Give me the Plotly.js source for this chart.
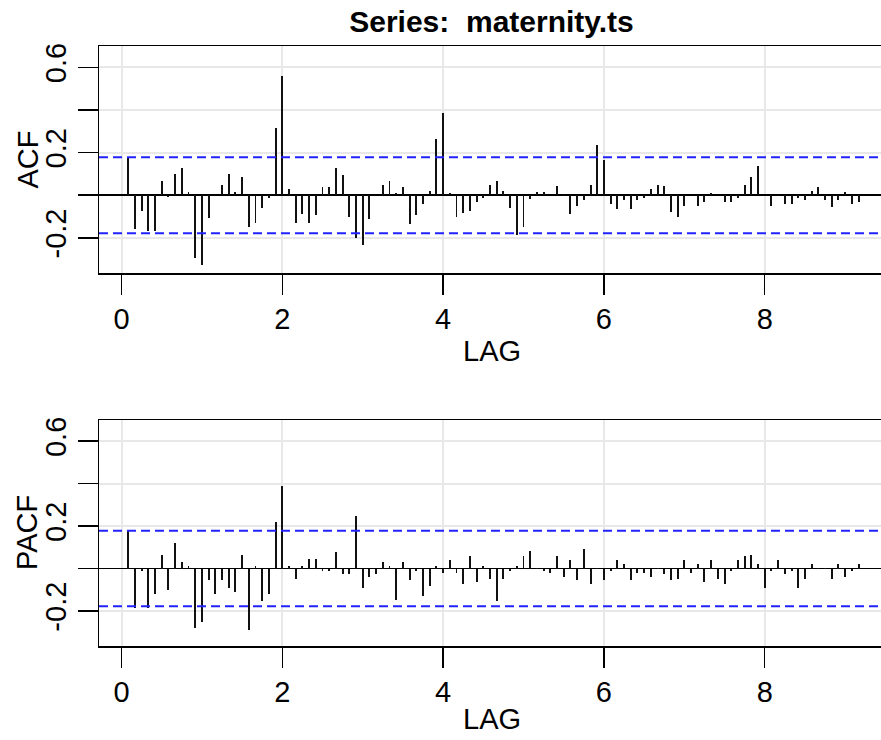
<!DOCTYPE html>
<html><head><meta charset="utf-8">
<script src="https://cdn.plot.ly/plotly-3.0.1.min.js"></script>
<style>html,body{margin:0;padding:0;background:#fff}</style>
</head><body><div id="chart" style="width:881px;height:740px"></div>
<script>
const seriesName = "maternity.ts";
const freq = 12;
const acfValues = [
 0.178,-0.157,-0.075,-0.167,-0.167, 0.066,-0.008, 0.100, 0.128, 0.013,
-0.293,-0.326,-0.105, 0.003, 0.049, 0.100, 0.013, 0.086,-0.149,-0.130,
-0.058,-0.014, 0.316, 0.560, 0.031,-0.130,-0.086,-0.130,-0.094, 0.039,
 0.039, 0.128, 0.094,-0.100,-0.203,-0.235,-0.113, 0.002, 0.047, 0.066,
 0.011, 0.039,-0.136,-0.091,-0.039, 0.020, 0.263, 0.388, 0.011,-0.100,
-0.083,-0.075,-0.030,-0.013, 0.050, 0.067, 0.020,-0.058,-0.185,-0.149,
-0.020, 0.013, 0.013, 0.002, 0.042,-0.002,-0.086,-0.050,-0.023, 0.050,
 0.236, 0.164,-0.042,-0.067,-0.023,-0.067,-0.023,-0.013, 0.031, 0.050,
 0.042,-0.078,-0.100,-0.049, 0.002,-0.049,-0.031, 0.011, 0.002,-0.031,
-0.031,-0.013, 0.047, 0.085, 0.138, 0.002,-0.049,-0.002,-0.039,-0.039,
-0.014,-0.023, 0.020, 0.039,-0.023,-0.055,-0.023, 0.013,-0.039,-0.031
];
const pacfValues = [
 0.178,-0.185,-0.013,-0.185,-0.119, 0.066,-0.102, 0.120, 0.030, 0.011,
-0.282,-0.252,-0.055,-0.119,-0.055,-0.091,-0.110, 0.066,-0.290, 0.011,
-0.153,-0.119, 0.219, 0.390, 0.011,-0.047, 0.011, 0.047, 0.047,-0.013,
-0.013, 0.077,-0.028,-0.028, 0.246,-0.091,-0.041,-0.028, 0.030, 0.011,
-0.146, 0.030,-0.055,-0.013,-0.130,-0.083, 0.011,-0.020, 0.039,-0.020,
-0.075, 0.058,-0.064, 0.011,-0.047,-0.153,-0.047,-0.013, 0.011, 0.058,
 0.085, 0.002,-0.013,-0.020, 0.058,-0.039, 0.039,-0.056, 0.092,-0.075,
 0.002,-0.056,-0.013, 0.039, 0.022,-0.056,-0.020,-0.020,-0.039, 0.002,
-0.028,-0.056,-0.047, 0.039,-0.020, 0.022,-0.064, 0.039,-0.047,-0.075,
-0.013, 0.039, 0.058, 0.066, 0.022,-0.094,-0.013, 0.039,-0.028,-0.013,
-0.094,-0.047, 0.022, 0.002, 0.002,-0.047, 0.022,-0.039,-0.013, 0.022
];
const ciBound = 0.178;
const xTickVals = [0, 2, 4, 6, 8];
const yTickVals = [-0.2, 0, 0.2, 0.4, 0.6];
const yTickText = ['-0.2', '', '0.2', '', '0.6'];
const xLabel = "LAG";
const yLabels = ["ACF", "PACF"];

const lags = acfValues.map((_, i) => (i + 1) / freq);

const FONT = "Liberation Sans, Arial, sans-serif";
const barStyle = {type: 'bar', width: 0.024, marker: {color: '#111', line: {width: 0}}, hoverinfo: 'x+y', showlegend: false};

const traces = [
  Object.assign({x: lags, y: acfValues, xaxis: 'x', yaxis: 'y', name: 'ACF'}, barStyle),
  Object.assign({x: lags, y: pacfValues, xaxis: 'x2', yaxis: 'y2', name: 'PACF'}, barStyle)
];

function xAxis(anchor) {
  return {
    anchor: anchor, range: [-0.28, 9.446], tickvals: xTickVals, ticktext: xTickVals.map(String),
    ticks: 'outside', ticklen: 20, tickwidth: 1.5, tickcolor: '#000',
    showline: true, linecolor: '#000', linewidth: 1.5, mirror: true,
    showgrid: true, gridcolor: '#e8e8e8', gridwidth: 2, zeroline: false,
    tickfont: {family: FONT, size: 29, color: '#000'}, automargin: false
  };
}
function yAxis(anchor, domain) {
  return {
    anchor: anchor, domain: domain, range: [-0.365, 0.70],
    tickvals: yTickVals, ticktext: yTickText, tickangle: -90,
    ticks: 'outside', ticklen: 20, tickwidth: 1.5, tickcolor: '#000',
    showline: true, linecolor: '#000', linewidth: 1.5, mirror: false,
    showgrid: true, gridcolor: '#e8e8e8', gridwidth: 2,
    zeroline: true, zerolinecolor: '#000', zerolinewidth: 1.5,
    tickfont: {family: FONT, size: 29, color: '#000'}, automargin: false
  };
}

const px = v => (v - 99) / 782;
const py = v => (646 - v) / 600;

const ciShapes = [];
[['y', 'x'], ['y2', 'x2']].forEach(([ya, xa]) => {
  [ciBound, -ciBound].forEach(b => {
    ciShapes.push({type: 'line', xref: xa + ' domain', yref: ya, x0: 0, x1: 1, y0: b, y1: b,
      line: {color: '#2222ff', width: 2, dash: '9px,5px'}});
  });
});

const annFont = {family: FONT, size: 29, color: '#000'};
const layout = {
  width: 881, height: 740,
  margin: {l: 99, r: 0, t: 46, b: 94},
  paper_bgcolor: '#fff', plot_bgcolor: '#fff',
  title: {text: 'Series: \u00a0' + seriesName, font: {family: FONT, size: 30, color: '#000', weight: 'bold'},
          x: px(491.5), xref: 'paper', xanchor: 'center', y: 1 - 21 / 740, yref: 'container', yanchor: 'middle'},
  xaxis: xAxis('y'),
  yaxis: yAxis('x', [(646 - 273) / 600, 1]),
  xaxis2: xAxis('y2'),
  yaxis2: yAxis('x2', [0, (646 - 420) / 600]),
  shapes: ciShapes,
  annotations: [
    {text: xLabel, xref: 'paper', yref: 'paper', x: px(492), y: py(351), showarrow: false, font: annFont, xanchor: 'center', yanchor: 'middle'},
    {text: xLabel, xref: 'paper', yref: 'paper', x: px(492), y: py(719), showarrow: false, font: annFont, xanchor: 'center', yanchor: 'middle'},
    {text: yLabels[0], xref: 'paper', yref: 'paper', x: px(27), y: py(159.5), showarrow: false, font: annFont, textangle: -90, xanchor: 'center', yanchor: 'middle'},
    {text: yLabels[1], xref: 'paper', yref: 'paper', x: px(27), y: py(533), showarrow: false, font: annFont, textangle: -90, xanchor: 'center', yanchor: 'middle'}
  ],
  bargap: 0
};

Plotly.newPlot('chart', traces, layout, {staticPlot: true, displayModeBar: false});
</script>
</body></html>
